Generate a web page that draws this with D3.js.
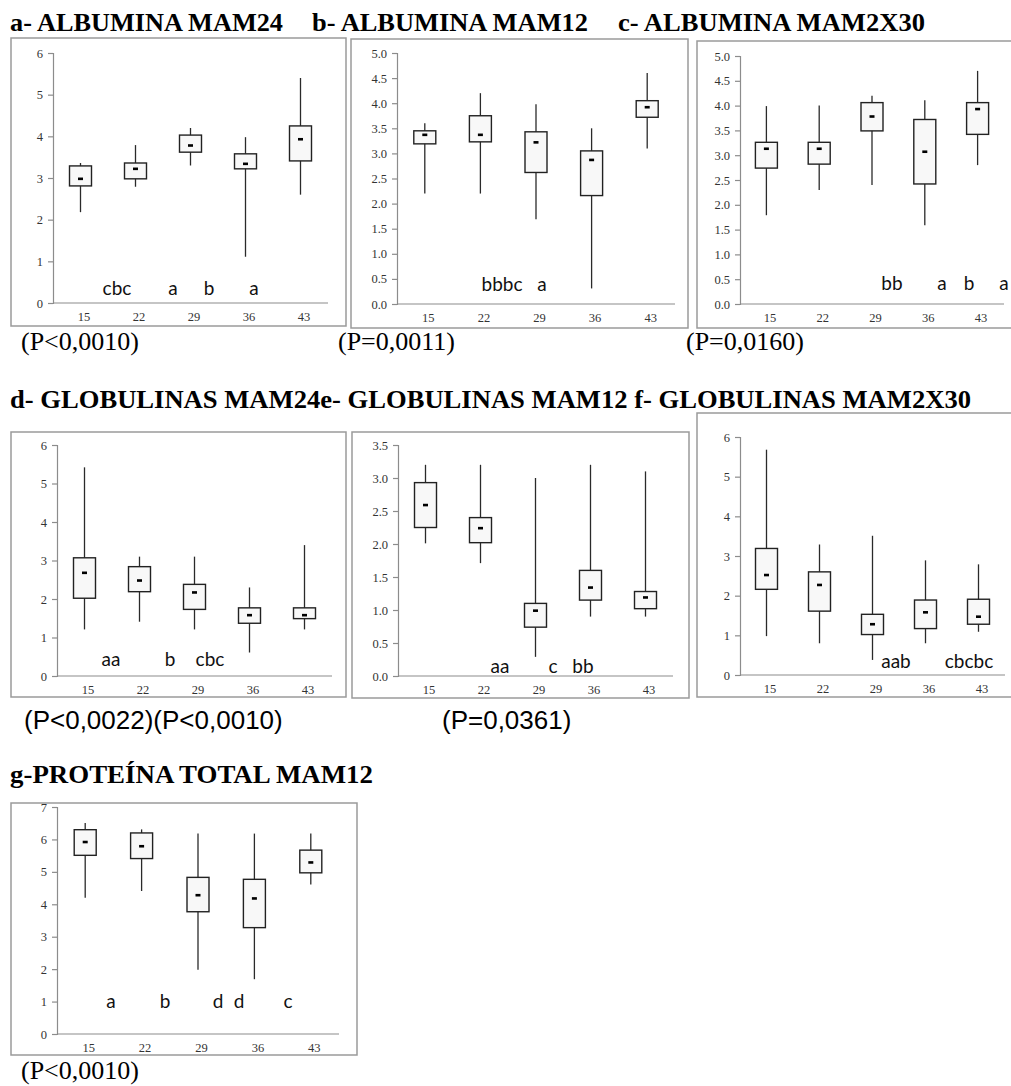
<!DOCTYPE html>
<html><head><meta charset="utf-8">
<script src="https://cdn.jsdelivr.net/npm/d3@7/dist/d3.min.js"></script>
<style>
html,body{margin:0;padding:0;background:#fff;}
svg{display:block;}
</style></head>
<body>
<svg id="c" width="1011" height="1086"></svg>
<script>
// ---------- DATA ----------
const days = ["15", "22", "29", "36", "43"];
// each entry: [min, q1, median, q3, max]
const albuminaMAM24 = [[2.18,2.81,2.98,3.29,3.36],[2.79,2.98,3.22,3.36,3.79],[3.30,3.62,3.78,4.03,4.20],[1.11,3.22,3.34,3.58,3.98],[2.60,3.41,3.93,4.25,5.40]];
const albuminaMAM12 = [[2.20,3.19,3.37,3.45,3.60],[2.20,3.23,3.37,3.75,4.20],[1.69,2.62,3.22,3.43,3.98],[0.31,2.16,2.87,3.05,3.50],[3.10,3.72,3.92,4.05,4.60]];
const albuminaMAM2X30 = [[1.79,2.74,3.13,3.26,3.99],[2.30,2.82,3.13,3.26,4.00],[2.40,3.49,3.78,4.06,4.20],[1.59,2.42,3.07,3.72,4.11],[2.80,3.42,3.93,4.06,4.70]];
const globulinasMAM24 = [[1.21,2.02,2.68,3.07,5.42],[1.41,2.19,2.48,2.84,3.10],[1.21,1.73,2.17,2.38,3.10],[0.61,1.37,1.58,1.77,2.30],[1.21,1.49,1.58,1.77,3.40]];
const globulinasMAM12 = [[2.01,2.25,2.59,2.93,3.20],[1.71,2.02,2.24,2.40,3.20],[0.29,0.74,0.99,1.10,3.00],[0.90,1.15,1.34,1.60,3.20],[0.90,1.02,1.19,1.28,3.10]];
const globulinasMAM2X30 = [[0.98,2.16,2.52,3.19,5.68],[0.80,1.61,2.27,2.60,3.29],[0.38,1.02,1.28,1.53,3.51],[0.80,1.17,1.58,1.89,2.89],[1.09,1.28,1.47,1.91,2.79]];
const proteinaTotalMAM12 = [[4.20,5.51,5.92,6.30,6.51],[4.41,5.41,5.79,6.20,6.31],[1.98,3.77,4.28,4.83,6.18],[1.69,3.28,4.18,4.77,6.18],[4.61,4.97,5.29,5.67,6.18]];

const ticks6 = [0,1,2,3,4,5,6];
const ticks5h = [0,0.5,1,1.5,2,2.5,3,3.5,4,4.5,5];
const ticks35 = [0,0.5,1,1.5,2,2.5,3,3.5];
const ticks7 = [0,1,2,3,4,5,6,7];

// significance letters per panel
const lettersA = ["cbc","a","b","a"];
const lettersB = ["bbbc","a"];
const lettersC = ["bb","a","b","a"];
const lettersD = ["aa","b","cbc"];
const lettersE = ["aa","c","bb"];
const lettersF = ["aab","cbcbc"];
const lettersG = ["a","b","d","d","c"];

// ---------- LAYOUT ----------
const panels = [
  {data:albuminaMAM24, ticks:ticks6, fmt:d3.format("d"), frame:[11,38,335,288], ax:53, xEnd:328, y0:303, yTop:53,
   letters:lettersA, lx:[117,173,209,254], ly:295},
  {data:albuminaMAM12, ticks:ticks5h, fmt:d3.format(".1f"), frame:[351,39,337,289], ax:397, xEnd:675, y0:304, yTop:53,
   letters:lettersB, lx:[502,542], ly:291},
  {data:albuminaMAM2X30, ticks:ticks5h, fmt:d3.format(".1f"), frame:[697,41,330,287], ax:740, xEnd:1004, y0:304, yTop:56,
   letters:lettersC, lx:[892,942,969,1004], ly:290},
  {data:globulinasMAM24, ticks:ticks6, fmt:d3.format("d"), frame:[11,432,335,265], ax:57, xEnd:332, y0:676, yTop:445,
   letters:lettersD, lx:[111,170,210], ly:666},
  {data:globulinasMAM12, ticks:ticks35, fmt:d3.format(".1f"), frame:[352,432,337,266], ax:398, xEnd:673, y0:676, yTop:445,
   letters:lettersE, lx:[500,553,583], ly:673},
  {data:globulinasMAM2X30, ticks:ticks6, fmt:d3.format("d"), frame:[697,413,330,284], ax:740, xEnd:1005, y0:675, yTop:437,
   letters:lettersF, lx:[896,969], ly:668},
  {data:proteinaTotalMAM12, ticks:ticks7, fmt:d3.format("d"), frame:[11,803,346,252], ax:57, xEnd:339, y0:1034, yTop:807,
   letters:lettersG, lx:[111,165,218,239,288], ly:1008}
];

const svg = d3.select("#c");
const SERIF = "'Liberation Serif','Times New Roman',serif";
const SANS = "'Liberation Sans',Arial,sans-serif";
const LETTER = "Lato,'Open Sans',sans-serif";

panels.forEach(p => {
  const g = svg.append("g");
  const [fx,fy,fw,fh] = p.frame;
  g.append("rect").attr("x",fx).attr("y",fy).attr("width",fw).attr("height",fh)
    .attr("fill","#fff").attr("stroke","#9a9a9a").attr("stroke-width",1.5);

  const yMax = p.ticks[p.ticks.length-1];
  const y = d3.scaleLinear().domain([0,yMax]).range([p.y0,p.yTop]);
  const x = d3.scalePoint().domain(days).range([p.ax,p.xEnd]).padding(0.5);

  // y axis
  const yAxis = d3.axisLeft(y).tickValues(p.ticks).tickFormat(p.fmt).tickSize(5).tickPadding(5);
  const ya = g.append("g").attr("transform",`translate(${p.ax},0)`).call(yAxis);
  ya.select(".domain").attr("stroke","#8c8c8c").attr("stroke-width",1.2);
  ya.selectAll(".tick line").attr("stroke","#8c8c8c").attr("stroke-width",1.2);
  ya.selectAll(".tick text").attr("font-family",SERIF).attr("font-size",12.5).attr("fill","#333");

  // x axis
  const xAxis = d3.axisBottom(x).tickSize(0).tickPadding(9);
  const xa = g.append("g").attr("transform",`translate(0,${p.y0})`).call(xAxis);
  xa.select(".domain").attr("stroke","#8c8c8c").attr("stroke-width",1.2).attr("d",`M${p.ax},0H${p.xEnd}`);
  xa.selectAll(".tick text").attr("font-family",SERIF).attr("font-size",12.5).attr("fill","#333").attr("dx",3);

  const bw = 22;
  const bx = g.append("g").selectAll("g").data(p.data.map((d,i)=>({d, k:days[i]}))).join("g");
  // whisker
  bx.append("line").attr("x1",o=>x(o.k)).attr("x2",o=>x(o.k))
    .attr("y1",o=>y(o.d[0])).attr("y2",o=>y(o.d[4]))
    .attr("stroke","#2a2a2a").attr("stroke-width",1.3);
  // box
  bx.append("rect").attr("x",o=>x(o.k)-bw/2).attr("width",bw)
    .attr("y",o=>y(o.d[3])).attr("height",o=>y(o.d[1])-y(o.d[3]))
    .attr("fill","#f8f8f8").attr("stroke","#222").attr("stroke-width",1.4);
  // median dash
  bx.append("rect").attr("x",o=>x(o.k)-2.5).attr("width",5)
    .attr("y",o=>y(o.d[2])-1.3).attr("height",2.6).attr("fill","#000");

  // letters
  g.append("g").selectAll("text").data(p.letters).join("text")
    .attr("x",(d,i)=>p.lx[i]).attr("y",p.ly).attr("text-anchor","middle")
    .attr("font-family",LETTER).attr("font-size",19).attr("fill","#111").text(d=>d);
});

// ---------- TITLES ----------
const titles = [
  {t:"a- ALBUMINA MAM24", x:10, y:31, w:273},
  {t:"b- ALBUMINA MAM12", x:312, y:31, w:276},
  {t:"c- ALBUMINA MAM2X30", x:618, y:31, w:307},
  {t:"d- GLOBULINAS MAM24e- GLOBULINAS MAM12 f- GLOBULINAS MAM2X30", x:10, y:408, w:961},
  {t:"g-PROTEÍNA TOTAL MAM12", x:10, y:783, w:363}
];
svg.append("g").selectAll("text").data(titles).join("text")
  .attr("x",d=>d.x).attr("y",d=>d.y).attr("textLength",d=>d.w).attr("lengthAdjust","spacingAndGlyphs")
  .attr("font-family",SERIF).attr("font-weight","bold").attr("font-size",25).attr("fill","#000").text(d=>d.t);

const pSerif = [
  {t:"(P<0,0010)", x:21, y:350},
  {t:"(P=0,0011)", x:338, y:350},
  {t:"(P=0,0160)", x:686, y:350},
  {t:"(P<0,0010)", x:21, y:1079}
];
svg.append("g").selectAll("text").data(pSerif).join("text")
  .attr("x",d=>d.x).attr("y",d=>d.y)
  .attr("font-family",SERIF).attr("font-size",26).attr("fill","#000").text(d=>d.t);

const pSans = [
  {t:"(P<0,0022)(P<0,0010)", x:24, y:729},
  {t:"(P=0,0361)", x:442, y:729}
];
svg.append("g").selectAll("text").data(pSans).join("text")
  .attr("x",d=>d.x).attr("y",d=>d.y)
  .attr("font-family",SANS).attr("font-size",26).attr("fill","#000").text(d=>d.t);
</script>
</body></html>
